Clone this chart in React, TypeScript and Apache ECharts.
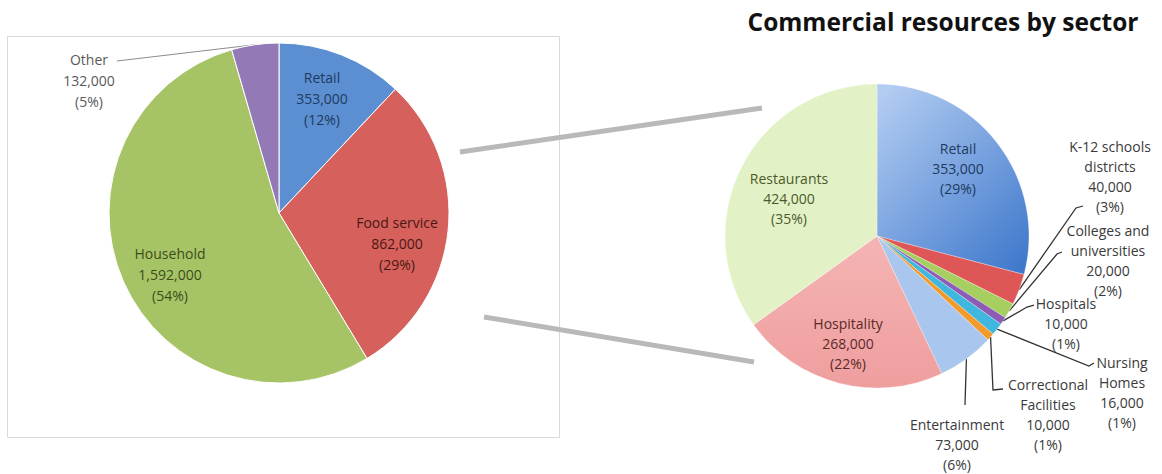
import React, { useEffect, useRef } from 'react';
import * as echarts from 'echarts';

// ---------- data ----------
const sectorNames = ['Retail', 'Food service', 'Household', 'Other'];
const sectorValues = [353000, 862000, 1592000, 132000];
const sectorPercents = [12, 29, 54, 5];

const commercialNames = [
  'Retail',
  'K-12 schools\ndistricts',
  'Colleges and\nuniversities',
  'Hospitals',
  'Nursing\nHomes',
  'Correctional\nFacilities',
  'Entertainment',
  'Hospitality',
  'Restaurants',
];
const commercialValues = [353000, 40000, 20000, 10000, 16000, 10000, 73000, 268000, 424000];
const commercialPercents = [29, 3, 2, 1, 1, 1, 6, 22, 35];

const titleText = 'Commercial resources by sector';

// ---------- styles & label placement ----------
const FONT = '"Open Sans", "Noto Sans", sans-serif';

const sectorColors = ['#5b8fd1', '#d6615c', '#a6c466', '#9379b6'];
const sectorTextColors = ['#1f3a60', '#4a1713', '#3b4d1b', '#595959'];
const sectorInside = [true, true, true, false];
const sectorLabelPlace: { x: number; y: number; line?: number[][] }[] = [
  { x: 322, y: 98 },
  { x: 397, y: 243 },
  { x: 170, y: 274 },
  { x: 89, y: 80, line: [[117, 61], [117, 61]] },
];

const commercialColors: any[] = [
  { type: 'linear', x: 0.1, y: 0, x2: 0.9, y2: 1, colorStops: [{ offset: 0, color: '#b2ccf2' }, { offset: 1, color: '#4079cc' }] },
  '#de5656',
  '#a6cf5f',
  '#8d5db6',
  '#3fb7de',
  '#f39a2c',
  '#a9c6ef',
  { type: 'linear', x: 0, y: 0, x2: 0, y2: 1, colorStops: [{ offset: 0, color: '#f5b4b4' }, { offset: 1, color: '#ef9e9e' }] },
  '#e3f1c6',
];
const commercialTextColors = ['#1f3a60', '#3a3a3a', '#3a3a3a', '#3a3a3a', '#3a3a3a', '#3a3a3a', '#3a3a3a', '#5a2a2a', '#4b5a2b'];
const commercialInside = [true, false, false, false, false, false, false, true, true];
const commercialLabelPlace: { x: number; y: number; line?: number[][] }[] = [
  { x: 958, y: 168 },
  { x: 1110, y: 176, line: [[1076, 208], [1083, 206]] },
  { x: 1108, y: 260, line: [[1057, 254], [1062, 252]] },
  { x: 1066, y: 323, line: [[1027, 307], [1034, 305]] },
  { x: 1122, y: 392, line: [[1089, 366], [1094, 363]] },
  { x: 1048, y: 414, line: [[993, 390], [1003, 389]] },
  { x: 957, y: 444, line: [[965, 405], [965, 405]] },
  { x: 848, y: 343 },
  { x: 789, y: 198 },
];

function fmt(v: number) {
  return v.toLocaleString('en-US');
}

function buildData(
  names: string[],
  values: number[],
  colors: any[],
  textColors: string[],
  inside: boolean[],
  lineColor: string,
  lineWidth: number
) {
  return names.map((n, i) => ({
    name: n,
    value: values[i],
    itemStyle: { color: colors[i] },
    label: {
      show: true,
      position: inside[i] ? 'inside' : 'outside',
      color: textColors[i],
    },
    labelLine: {
      show: !inside[i],
      lineStyle: { color: lineColor, width: lineWidth },
    },
  }));
}

function makeLayout(place: { x: number; y: number; line?: number[][] }[]) {
  return (params: any) => {
    const p = place[params.dataIndex];
    const res: any = { x: p.x, y: p.y, align: 'center', verticalAlign: 'middle' };
    if (p.line && params.labelLinePoints) {
      const start = params.labelLinePoints[0];
      res.labelLinePoints = [start, p.line[0], p.line[1]];
    }
    return res;
  };
}

export default function App() {
  const ref = useRef<HTMLDivElement>(null);

  useEffect(() => {
    if (!ref.current) return;
    const chart = echarts.init(ref.current, undefined, { renderer: 'svg' });

    const option: any = {
      animation: false,
      backgroundColor: '#ffffff',
      graphic: [
        {
          type: 'rect',
          z: 0,
          shape: { x: 7.5, y: 36.5, width: 552, height: 401 },
          style: { fill: 'none', stroke: '#d9d9d9', lineWidth: 1 },
        },
        {
          type: 'line',
          z: 10,
          shape: { x1: 460, y1: 152, x2: 762, y2: 108 },
          style: { stroke: '#b9b9b9', lineWidth: 5 },
        },
        {
          type: 'line',
          z: 10,
          shape: { x1: 484, y1: 317, x2: 754, y2: 362 },
          style: { stroke: '#b9b9b9', lineWidth: 5 },
        },
        {
          type: 'text',
          z: 10,
          x: 943,
          y: 21,
          style: {
            text: titleText,
            align: 'center',
            verticalAlign: 'middle',
            fill: '#111111',
            font: `bold 24.5px ${FONT}`,
          },
        },
      ],
      series: [
        {
          type: 'pie',
          center: [279, 213],
          radius: [0, 170],
          startAngle: 90,
          clockwise: true,
          avoidLabelOverlap: false,
          emphasis: { disabled: true },
          itemStyle: { borderColor: '#ffffff', borderWidth: 1 },
          label: {
            fontFamily: FONT,
            fontSize: 14,
            lineHeight: 21,
            align: 'center',
            formatter: (p: any) =>
              `${p.name}\n${fmt(p.value)}\n(${sectorPercents[p.dataIndex]}%)`,
          },
          labelLayout: makeLayout(sectorLabelPlace),
          data: buildData(sectorNames, sectorValues, sectorColors, sectorTextColors, sectorInside, '#8c8c8c', 1),
        },
        {
          type: 'pie',
          center: [877, 236],
          radius: [0, 152],
          startAngle: 90,
          clockwise: true,
          avoidLabelOverlap: false,
          emphasis: { disabled: true },
          itemStyle: { borderColor: 'rgba(255,255,255,0.6)', borderWidth: 0.5 },
          label: {
            fontFamily: FONT,
            fontSize: 14,
            lineHeight: 20,
            align: 'center',
            formatter: (p: any) =>
              `${p.name}\n${fmt(p.value)}\n(${commercialPercents[p.dataIndex]}%)`,
          },
          labelLayout: makeLayout(commercialLabelPlace),
          data: buildData(commercialNames, commercialValues, commercialColors, commercialTextColors, commercialInside, '#333333', 1.3),
        },
      ],
    };

    chart.setOption(option);
    return () => {
      chart.dispose();
    };
  }, []);

  return (
    <div
      ref={ref}
      style={{ position: 'absolute', left: 0, top: 0, width: 1162, height: 474 }}
    />
  );
}
